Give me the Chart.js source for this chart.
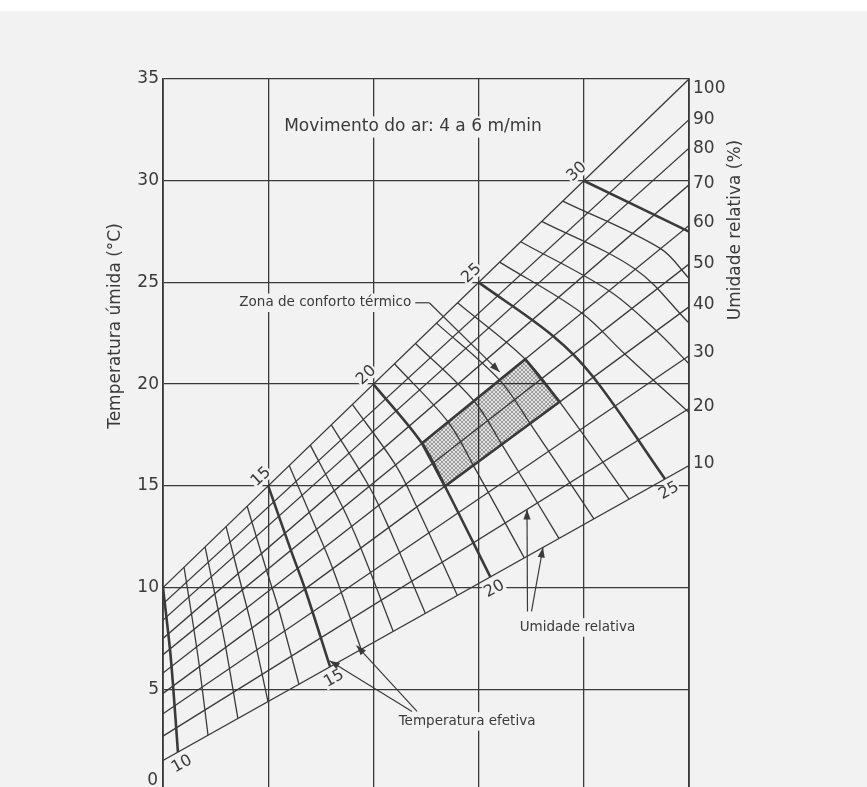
<!DOCTYPE html>
<html><head><meta charset="utf-8"><title>Temperatura efetiva</title>
<script src="https://cdn.jsdelivr.net/npm/chart.js@4.4.1/dist/chart.umd.min.js"></script>
<style>
html,body{margin:0;padding:0;background:#f2f2f2;overflow:hidden;width:867px;height:787px;}
#band{position:absolute;left:0;top:0;width:867px;height:11px;background:#ffffff;}
canvas{position:absolute;left:0;top:0;}
</style></head><body>
<canvas id="c" width="867" height="812"></canvas>
<div id="band"></div>
<script>
// ---------- data (dry bulb °C on x, wet bulb °C on y) ----------
const wetBulbTicks = [0,5,10,15,20,25,30,35];
const dryBulbGrid = [10,15,20,25,30,35];
const rhLevels   = [100,90,80,70,60,50,40,30,20,10];
const rhWbAtDb10 = [10,9.2,8.4,7.5,6.7,5.8,4.8,3.8,2.7,1.5];
const rhWbAtDb35 = [35,33.0,31.6,29.8,27.8,25.9,23.8,21.4,18.8,16.0];
const rhLabelWb  = [34.55,33.0,31.6,29.85,27.95,25.95,23.9,21.55,18.9,16.1];

const etLevels = [10,11,12,13,14,15,16,17,18,19,20,21,22,23,24,25,26,27,28,29,30];
const etThick  = [10,15,20,25,30];
const et10 = [[10,10],[10.33,6.98],[10.48,5.16],[10.71,1.91]];
const et11 = [[11,11],[11.47,7.94],[11.73,6.11],[12.14,2.74]];
const et12 = [[12,12],[12.62,8.91],[12.98,7.06],[13.56,3.56]];
const et13 = [[13,13],[13.77,9.88],[14.23,8.01],[14.99,4.39]];
const et14 = [[14,14],[14.92,10.85],[15.49,8.97],[16.46,5.25]];
const et15 = [[15,15],[16.08,11.83],[16.75,9.93],[17.94,6.11]];
const et16 = [[16,16],[17.3,12.86],[18.07,10.93],[19.42,6.96]];
const et17 = [[17,17],[18.55,13.92],[19.4,11.94],[20.94,7.85]];
const et18 = [[18,18],[19.8,14.97],[20.73,12.95],[22.47,8.73]];
const et19 = [[19,19],[21.05,16.03],[22.06,13.97],[23.99,9.61]];
const et20 = [[20,20],[22.31,17.09],[23.4,14.98],[25.56,10.52]];
const et21 = [[21,21],[23.55,18.14],[24.75,16.01],[27.17,11.46]];
const et22 = [[22,22],[24.78,19.17],[26.1,17.04],[28.82,12.42]];
const et23 = [[23,23],[26.0,20.2],[27.45,18.06],[30.48,13.38]];
const et24 = [[24,24],[27.22,21.23],[28.85,19.13],[32.15,14.35]];
const et25 = [[25,25],[28.55,22.36],[30.45,20.35],[33.86,15.34]];
const et26 = [[26,26],[29.9,23.5],[31.95,21.48],[35,18.6]];
const et27 = [[27,27],[31.2,24.59],[33.45,22.62],[35,21.0]];
const et28 = [[28,28],[32.45,25.65],[35,23.0]];
const et29 = [[29,29],[33.65,26.66],[35,25.2]];
const et30 = [[30,30],[35,27.5]];
const etLines = [et10,et11,et12,et13,et14,et15,et16,et17,et18,et19,et20,et21,et22,et23,et24,et25,et26,et27,et28,et29,et30];
const etTopLabels = [15,20,25,30];
const etBottomLabels = [10,15,20,25];
const comfortZone = [[22.31,17.09],[27.22,21.23],[28.85,19.13],[23.4,14.98]];

// annotation anchors (data coordinates)
const noteMovimento = {text:'Movimento do ar: 4 a 6 m/min', at:[21.88,32.64]};
const noteZona = {text:'Zona de conforto térmico', at:[21.8,24.0], tip:[26.0,20.6]};
const noteUmidade = {text:'Umidade relativa', at:[29.7,8.04], tips:[[27.3,13.84],[28.06,11.97]]};
const noteTE = {text:'Temperatura efetiva', at:[24.45,3.42], tips:[[17.92,6.4],[19.2,7.15]]};

// ---------- styling ----------
const INK = '#3a3a3a';
const BG = '#f2f2f2';
const FONT = '"DejaVu Sans", "Liberation Sans", Arial, sans-serif';

const mainCtx = document.getElementById('c').getContext('2d');
function hatchPattern(){
  const t = document.createElement('canvas'); t.width = 4; t.height = 4;
  const g = t.getContext('2d');
  g.fillStyle = 'rgba(0,0,0,0.07)'; g.fillRect(0,0,4,4);
  g.fillStyle = 'rgba(0,0,0,0.30)';
  for (let i=0;i<4;i++){ g.fillRect(i,i,1,1); g.fillRect(3-i,i,1,1); }
  return mainCtx.createPattern(t,'repeat');
}

const datasets = [];
datasets.push({
  label:'Zona de conforto térmico',
  data: comfortZone.concat([comfortZone[0]]).map(p=>({x:p[0],y:p[1]})),
  borderColor: INK, borderWidth: 2.6, backgroundColor: hatchPattern(),
  fill: 'shape', pointRadius: 0, tension: 0, order: 9
});
rhLevels.forEach((rh,i)=>{
  datasets.push({
    label:'UR '+rh+'%',
    data:[{x:10,y:rhWbAtDb10[i]},{x:35,y:rhWbAtDb35[i]}],
    borderColor: INK, borderWidth: 1.3, pointRadius: 0, fill: false, tension: 0, order: 2
  });
});
etLevels.forEach((et,i)=>{
  const thick = etThick.includes(et);
  datasets.push({
    label:'TE '+et,
    data: etLines[i].map(p=>({x:p[0],y:p[1]})),
    borderColor: INK, borderWidth: thick ? 2.6 : 1.3, pointRadius: 0, fill: false,
    tension: 0.35, order: thick ? 0 : 1
  });
});

function textBox(ctx, text, cx, cy, rotDeg, size, pad, align){
  ctx.save();
  ctx.translate(cx, cy);
  ctx.rotate(rotDeg*Math.PI/180);
  ctx.font = size+'px '+FONT;
  const w = ctx.measureText(text).width;
  const h = size*0.78;
  let x0 = -w/2;
  if (align === 'right') x0 = -w;
  if (pad >= 0){
    ctx.fillStyle = BG;
    ctx.fillRect(x0-pad, -h/2-pad, w+2*pad, h+2*pad);
  }
  ctx.fillStyle = INK;
  ctx.textAlign = 'left';
  ctx.textBaseline = 'middle';
  ctx.fillText(text, x0, 0);
  ctx.restore();
  return w;
}
function arrow(ctx, x0, y0, x1, y1){
  ctx.save();
  ctx.strokeStyle = INK; ctx.fillStyle = INK; ctx.lineWidth = 1.2;
  ctx.beginPath(); ctx.moveTo(x0,y0); ctx.lineTo(x1,y1); ctx.stroke();
  const a = Math.atan2(y1-y0, x1-x0), L = 10, W = 3.6;
  ctx.beginPath();
  ctx.moveTo(x1,y1);
  ctx.lineTo(x1 - L*Math.cos(a) + W*Math.sin(a), y1 - L*Math.sin(a) - W*Math.cos(a));
  ctx.lineTo(x1 - L*Math.cos(a) - W*Math.sin(a), y1 - L*Math.sin(a) + W*Math.cos(a));
  ctx.closePath(); ctx.fill();
  ctx.restore();
}

const annotations = {
  id: 'annotations',
  afterDraw(chart){
    const ctx = chart.ctx;
    const xs = chart.scales.x, ys = chart.scales.y;
    const px = v => xs.getPixelForValue(v), py = v => ys.getPixelForValue(v);
    // axis titles
    textBox(ctx, 'Temperatura úmida (°C)', 116, 326, -90, 17, -1);
    textBox(ctx, 'Umidade relativa (%)', 736, 230, -90, 17, -1);
    // bottom tick label of the wet-bulb axis (sits just above the cut edge)
    ctx.save(); ctx.font = '17px '+FONT; ctx.fillStyle = INK; ctx.textAlign = 'right'; ctx.textBaseline = 'middle';
    ctx.fillText(String(wetBulbTicks[0]), xs.left - 5, py(wetBulbTicks[0]) - 10); ctx.restore();
    // ET labels on saturation line
    etTopLabels.forEach(et=>{
      textBox(ctx, String(et), px(et)-7, py(et)-9, -43, 16, 1);
    });
    // ET labels on the lower (10 %) line
    etBottomLabels.forEach(et=>{
      const line = etLines[etLevels.indexOf(et)];
      const end = line[line.length-1];
      textBox(ctx, String(et), px(end[0])+4, py(end[1])+12, -29, 16, 1);
    });
    // notes
    textBox(ctx, noteMovimento.text, px(noteMovimento.at[0]), py(noteMovimento.at[1]), 0, 17, 4);
    const zx = px(noteZona.at[0]), zy = py(noteZona.at[1]);
    textBox(ctx, noteZona.text, zx, zy, 0, 13.5, 4, 'right');
    ctx.save(); ctx.strokeStyle = INK; ctx.lineWidth = 1.2;
    ctx.beginPath(); ctx.moveTo(zx+4, zy); ctx.lineTo(zx+18, zy); ctx.stroke(); ctx.restore();
    arrow(ctx, zx+18, zy, px(noteZona.tip[0]), py(noteZona.tip[1]));
    const ux = px(noteUmidade.at[0]), uy = py(noteUmidade.at[1]);
    textBox(ctx, noteUmidade.text, ux, uy, 0, 13.5, 4);
    arrow(ctx, ux-50, uy-16, px(noteUmidade.tips[0][0]), py(noteUmidade.tips[0][1]));
    arrow(ctx, ux-46, uy-16, px(noteUmidade.tips[1][0]), py(noteUmidade.tips[1][1]));
    const tx = px(noteTE.at[0]), ty = py(noteTE.at[1]);
    textBox(ctx, noteTE.text, tx, ty, 0, 13.5, 4);
    arrow(ctx, tx-55, ty-10, px(noteTE.tips[0][0]), py(noteTE.tips[0][1]));
    arrow(ctx, tx-50, ty-10, px(noteTE.tips[1][0]), py(noteTE.tips[1][1]));
  }
};

new Chart(mainCtx, {
  type: 'line',
  data: { datasets },
  plugins: [annotations],
  options: {
    responsive: false, animation: false, devicePixelRatio: 1, events: [],
    layout: { padding: { top: 79, left: 0, right: 0, bottom: 0 } },
    plugins: { legend: { display: false }, tooltip: { enabled: false } },
    scales: {
      x: {
        type: 'linear', min: 10, max: 35,
        afterBuildTicks: s => { s.ticks = dryBulbGrid.map(v=>({value:v})); },
        ticks: { display: false },
        grid: { color: INK, lineWidth: 1.3, drawTicks: false },
        border: { display: false },
        afterFit: s => { s.height = 21; }
      },
      y: {
        type: 'linear', position: 'left', min: 0, max: 35,
        afterBuildTicks: s => { s.ticks = wetBulbTicks.map(v=>({value:v})); },
        ticks: { color: INK, font: { family: FONT, size: 17 }, padding: 4,
                 callback: v => (v === wetBulbTicks[0] ? '' : String(v)) },
        grid: { color: INK, lineWidth: 1.3, drawTicks: false },
        border: { display: true, color: INK, width: 1.8 },
        afterFit: s => { s.width = 163; }
      },
      y2: {
        type: 'linear', position: 'right', min: 0, max: 35,
        afterBuildTicks: s => { s.ticks = rhLabelWb.map(v=>({value:v})); },
        ticks: { color: INK, font: { family: FONT, size: 17 }, padding: 4, autoSkip: false,
                 callback: (v,i) => String(rhLevels[i]) },
        grid: { display: false, drawTicks: false },
        border: { display: true, color: INK, width: 1.8 },
        afterFit: s => { s.width = 178; }
      }
    }
  }
});
</script></body></html>
